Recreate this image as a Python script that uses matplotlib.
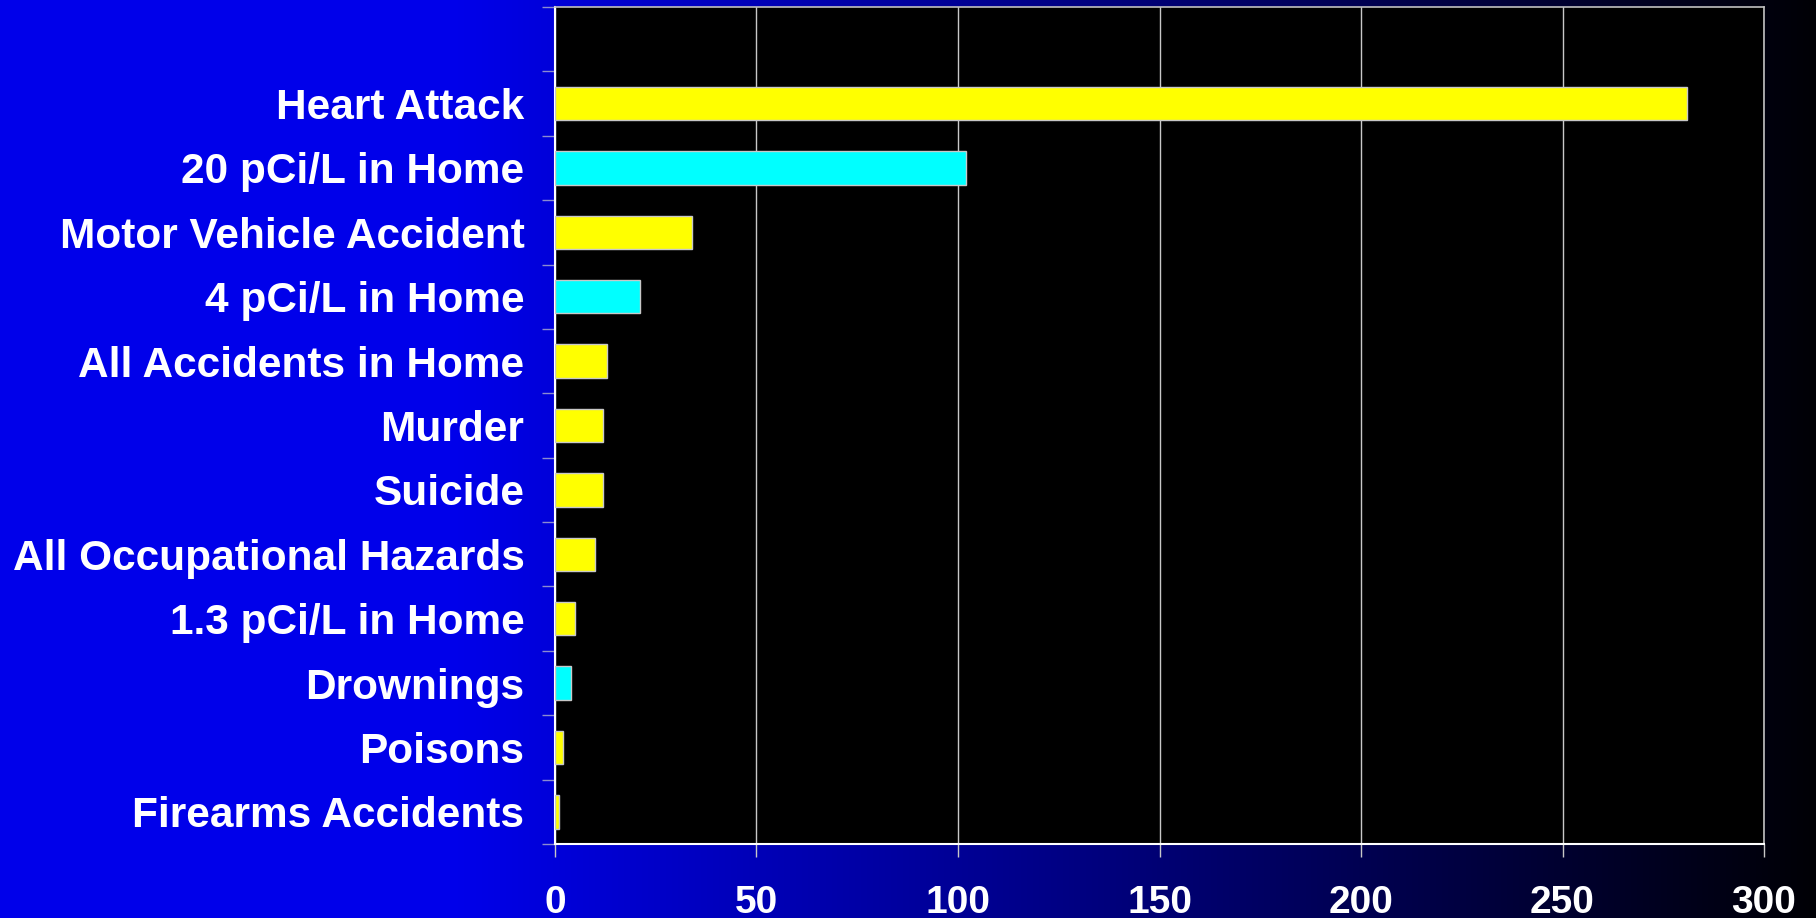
import numpy as np
import matplotlib
matplotlib.use('Agg')
import matplotlib.pyplot as plt

# categories listed from top to bottom
causes = ['Heart Attack', '20 pCi/L in Home', 'Motor Vehicle Accident',
          '4 pCi/L in Home', 'All Accidents in Home', 'Murder', 'Suicide',
          'All Occupational Hazards', '1.3 pCi/L in Home', 'Drownings',
          'Poisons', 'Firearms Accidents']
deaths = [281, 102, 34, 21, 13, 12, 12, 10, 5, 4, 2, 1]
is_radon = [False, True, False, True, False, False, False, False, False,
            True, False, False]
x_ticks = [0, 50, 100, 150, 200, 250, 300]

plt.rcParams['font.family'] = ['Liberation Sans', 'DejaVu Sans']
plt.rcParams['font.weight'] = 'bold'

fig = plt.figure(figsize=(18.16, 9.18), dpi=100)

# background: bright blue on the left fading to black on the right
bg = fig.add_axes([0, 0, 1, 1], zorder=0)
xs = np.linspace(0, 1, 600)
blue = np.where(xs < 0.25, 1.0, 1.0 - (xs - 0.25) / 0.75)
blue = 0.02 + 0.90 * np.clip(blue, 0, 1)
grad = np.zeros((2, len(xs), 3))
grad[:, :, 2] = blue
bg.imshow(grad, aspect='auto', extent=[0, 1, 0, 1], interpolation='bilinear')
bg.set_axis_off()

ax = fig.add_axes([0.3056, 0.0806, 0.6658, 0.9118], zorder=1)
ax.set_facecolor('black')

n = len(causes)
ypos = np.arange(n)[::-1]
colors = ['#00FFFF' if r else '#FFFF00' for r in is_radon]
ax.barh(ypos, deaths, height=0.52, color=colors, edgecolor='#c8c8c8',
        linewidth=1, zorder=3)

ax.set_xlim(0, 300)
ax.set_ylim(-0.5, n + 0.5)
ax.set_xticks(x_ticks)
ax.set_xticklabels([str(t) for t in x_ticks])
ax.set_yticks(ypos)
ax.set_yticklabels(causes)
ax.set_yticks(np.arange(-0.5, n + 1), minor=True)

ax.grid(axis='x', color='#c8c8c8', linewidth=1, zorder=1)
ax.set_axisbelow(True)

ax.tick_params(axis='y', which='major', length=0, pad=22,
               labelsize=30.5, labelcolor='white')
ax.tick_params(axis='y', which='minor', length=9.5, width=1,
               color='#8c8cd0', direction='out')
ax.tick_params(axis='x', which='major', length=9.5, width=1,
               color='#c8c8c8', direction='out', pad=20,
               labelsize=28, labelcolor='white')

for side in ['top', 'right']:
    ax.spines[side].set_color('#c0c0c0')
    ax.spines[side].set_linewidth(1.2)
for side in ['left', 'bottom']:
    ax.spines[side].set_color('white')
    ax.spines[side].set_linewidth(1.5)

fig.savefig('out.png', dpi=100)
